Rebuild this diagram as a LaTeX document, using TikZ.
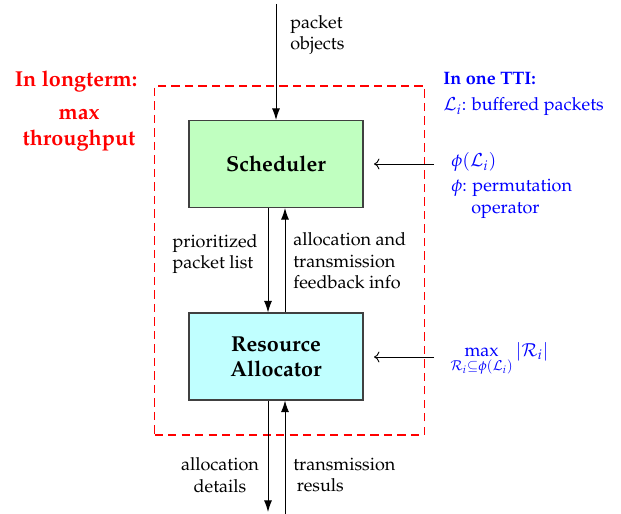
\documentclass[tikz,border=0pt]{standalone}
\usepackage[T1]{fontenc}
\usepackage{mathpazo}
\usetikzlibrary{arrows.meta}
\definecolor{schedgreen}{RGB}{192,255,192}
\definecolor{racyan}{RGB}{192,255,255}
\begin{document}
\begin{tikzpicture}[x=0.5556pt,y=-0.5556pt,
  blk/.style={draw=black!75, line width=0.6pt, minimum width=96.7pt, minimum height=48.3pt, inner sep=0pt, font=\large\bfseries, align=center},
  zone/.style={draw=red, dashed, dash pattern=on 4.5pt off 3pt, line width=0.7pt, minimum width=150pt, minimum height=193.9pt, inner sep=0pt},
  arr/.style={line width=0.55pt, -{Latex[length=6.5pt,width=4.5pt]}},
  harr/.style={line width=0.5pt, -{To[length=3pt,width=6pt]}},
  lbl/.style={inner sep=0pt, font=\normalsize},
  rlbl/.style={inner sep=0pt, text=red, font=\large\bfseries, align=center},
  blbl/.style={inner sep=0pt, text=blue, align=left}
]
\useasboundingbox (0,0) rectangle (621,514);

\node[zone] (region) at (289.5,260.5) {};
\node[blk, fill=schedgreen] (sched) at (276,164) {Scheduler};
\node[blk, fill=racyan] (ra) at (276,356.5) {Resource\\Allocator};

% vertical connectors
\coordinate (topin) at (276,4);
\coordinate (dn) at (268,0);
\coordinate (up) at (285,0);
\coordinate (dnout) at (268,512);
\coordinate (upin) at (285,514);
\draw[arr] (topin) -- (sched.north);
\draw[arr] (dn |- sched.south) -- (dn |- ra.north);
\draw[arr] (up |- ra.north) -- (up |- sched.south);
\draw[arr] (dn |- ra.south) -- (dnout);
\draw[arr] (upin) -- (up |- ra.south);

% horizontal connectors
\coordinate (phistart) at (434,164);
\coordinate (phiend) at (374,164);
\coordinate (maxstart) at (434,357);
\coordinate (maxend) at (374,357);
\draw[harr] (phistart) -- (phiend);
\draw[harr] (maxstart) -- (maxend);

% labels
\node[lbl, anchor=west, align=left] (pobj) at (290,35) {packet\\objects};
\node[lbl, anchor=east, align=left] (plist) at (258,254) {prioritized\\packet list};
\node[lbl, anchor=west, align=left] (fb) at (293,261) {allocation and\\transmission\\feedback info};
\node[lbl, anchor=center, align=center] (adet) at (220,475) {allocation\\details};
\node[lbl, anchor=west, align=left] (tres) at (293,475) {transmission\\\hspace*{2pt}resuls};

\node[rlbl] (lt) at (76,81) {In longterm:};
\node[rlbl] (mt) at (79,130) {max\\throughput};

\node[blbl, anchor=west, font=\bfseries] (tti) at (443,79) {In one TTI:};
\node[blbl, anchor=west] (li) at (443,107) {$\mathcal{L}_i$: buffered packets};
\node[blbl, anchor=west] (phi) at (451,162) {$\phi(\mathcal{L}_i)$};
\node[blbl, anchor=west] (perm) at (451,199) {$\phi$: permutation\\\phantom{$\phi$:~}operator};
\node[blbl, anchor=west] (maxf) at (450,359) {$\displaystyle\max_{\mathcal{R}_i\subseteq\phi(\mathcal{L}_i)}|\mathcal{R}_i|$};
\end{tikzpicture}
\end{document}
